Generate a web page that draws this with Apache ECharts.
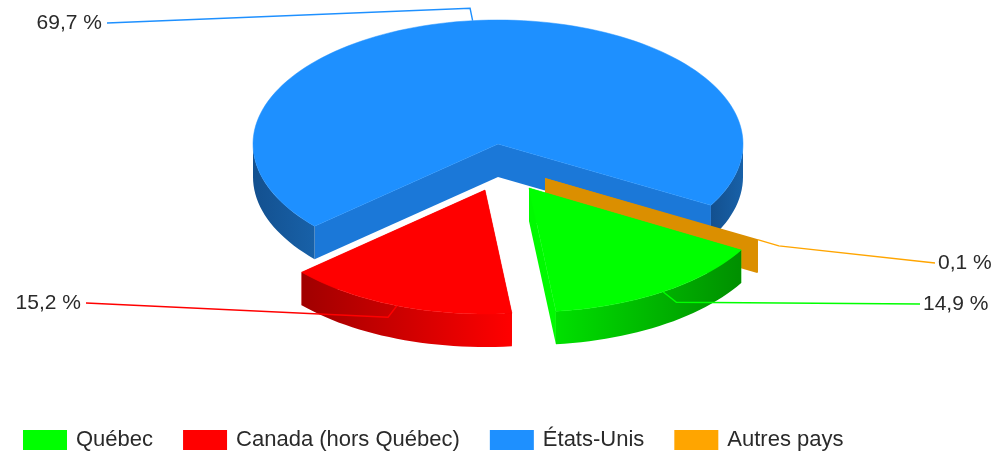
<!DOCTYPE html>
<html>
<head>
<meta charset="utf-8">
<style>
  html, body { margin: 0; padding: 0; background: #fff; }
  /* the reference is an upscaled screenshot, a bit soft */
  #main { width: 995px; height: 454px; filter: blur(0.5px); }
</style>
<script src="https://cdn.jsdelivr.net/npm/echarts@6/dist/echarts.min.js"></script>
</head>
<body>
<div id="main"></div>
<script>
// data
var categories = ['Québec', 'Canada (hors Québec)', 'États-Unis', 'Autres pays']
var shares = [14.9, 15.2, 69.7, 0.1]

// layout of the fake 3d pie
var colors = ['#00ff00', '#ff0000', '#1e90ff', '#ffa500']
var faceColors = ['#00fa00', '#e00000', '#1b78d8', '#db8f00']
var wallStops = [
  ['#00e000', '#008f00'],
  ['#a00000', '#ff0000'],
  ['#13508f', '#1861a8'],
  ['#db8f00', '#db8f00']
]
var centers = [[529, 188], [485, 190], [498, 144], [545, 178]]
var labelAnchors = [[920, 304], [86, 303], [107, 23], [935, 263]]
var labelSides = ['left', 'right', 'right', 'left']
var drawOrder = [3, 4, 1, 2]
var rx = 245
var ry = 124
var depth = 33
var startAngle = 30

var total = shares.reduce(function (a, b) { return a + b }, 0)

// start and end angle of a slice, clockwise from east
function sliceAngles(i) {
  var before = 0
  for (var k = 0; k < i; k++) before += shares[k]
  return [startAngle + before / total * 360, startAngle + (before + shares[i]) / total * 360]
}

function rim(i, deg, scale) {
  var a = deg * Math.PI / 180
  var s = scale || 1
  return [centers[i][0] + rx * s * Math.cos(a), centers[i][1] + ry * s * Math.sin(a)]
}

function arcPoints(i, from, to) {
  var pts = []
  var n = Math.max(2, Math.ceil(Math.abs(to - from) / 2))
  for (var k = 0; k <= n; k++) pts.push(rim(i, from + (to - from) * k / n))
  return pts
}

function drop(p) {
  return [p[0], p[1] + depth]
}

function outerWall(i, from, to) {
  var top = arcPoints(i, from, to)
  var pts = top.concat(top.slice().reverse().map(drop))
  var x0 = Math.min(top[0][0], top[top.length - 1][0])
  var x1 = Math.max(top[0][0], top[top.length - 1][0])
  return {
    type: 'polygon',
    shape: { points: pts },
    style: {
      fill: new echarts.graphic.LinearGradient(x0, 0, x1, 0, [
        { offset: 0, color: wallStops[i][0] },
        { offset: 1, color: wallStops[i][1] }
      ], true)
    }
  }
}

function cutFace(i, deg) {
  var c = centers[i]
  var e = rim(i, deg)
  return {
    type: 'polygon',
    shape: { points: [c, e, drop(e), drop(c)] },
    style: { fill: faceColors[i] }
  }
}

function renderSlice(i) {
  var ang = sliceAngles(i)
  var children = []
  children.push(cutFace(i, ang[0]))
  children.push(cutFace(i, ang[1]))

  // only the front half of the rim can be seen
  for (var turn = 0; turn <= 360; turn += 360) {
    var from = Math.max(ang[0], turn)
    var to = Math.min(ang[1], turn + 180)
    if (to > from) children.push(outerWall(i, from, to))
  }

  var arc = arcPoints(i, ang[0], ang[1])
  if (shares[i] >= 1) {
    children.push({
      type: 'polygon',
      shape: { points: [centers[i]].concat(arc) },
      style: { fill: colors[i], stroke: colors[i], lineWidth: 0.5 }
    })
  }
  return { type: 'group', children: children }
}

function renderLabel(params, api) {
  var i = api.value(0)
  var ang = sliceAngles(i)
  var mid = (ang[0] + ang[1]) / 2
  var anchor = labelAnchors[i]
  var left = labelSides[i] === 'left'
  return {
    type: 'group',
    children: [
      {
        type: 'polyline',
        shape: { points: [rim(i, mid), rim(i, mid, 1.1), anchor] },
        style: { fill: 'none', stroke: colors[i], lineWidth: 1.4 }
      },
      {
        type: 'text',
        style: {
          x: anchor[0] + (left ? 3 : -5),
          y: anchor[1],
          text: api.value(1).toFixed(1).replace('.', ',') + ' %',
          textAlign: left ? 'left' : 'right',
          textVerticalAlign: 'middle',
          font: '21px "Liberation Sans", Arial, sans-serif',
          fill: '#2a2a2a'
        }
      }
    ]
  }
}

var series = categories.map(function (name, i) {
  return {
    name: name,
    type: 'custom',
    coordinateSystem: 'none',
    silent: true,
    z: drawOrder[i],
    itemStyle: { color: colors[i] },
    data: [[shares[i]]],
    renderItem: function () {
      return renderSlice(i)
    }
  }
})

series.push({
  type: 'custom',
  coordinateSystem: 'none',
  silent: true,
  z: 10,
  data: shares.map(function (v, i) { return [i, v] }),
  renderItem: renderLabel
})

var myChart = echarts.init(document.getElementById('main'))
myChart.setOption({
  animation: false,
  backgroundColor: '#fff',
  legend: {
    data: categories,
    left: 18,
    top: 424,
    icon: 'rect',
    itemWidth: 44,
    itemHeight: 20,
    itemGap: 30,
    padding: 5,
    selectedMode: false,
    textStyle: {
      fontFamily: '"Liberation Sans", Arial, sans-serif',
      fontSize: 22,
      color: '#2a2a2a',
      padding: [0, 0, 0, 4]
    }
  },
  series: series
})
</script>
</body>
</html>
